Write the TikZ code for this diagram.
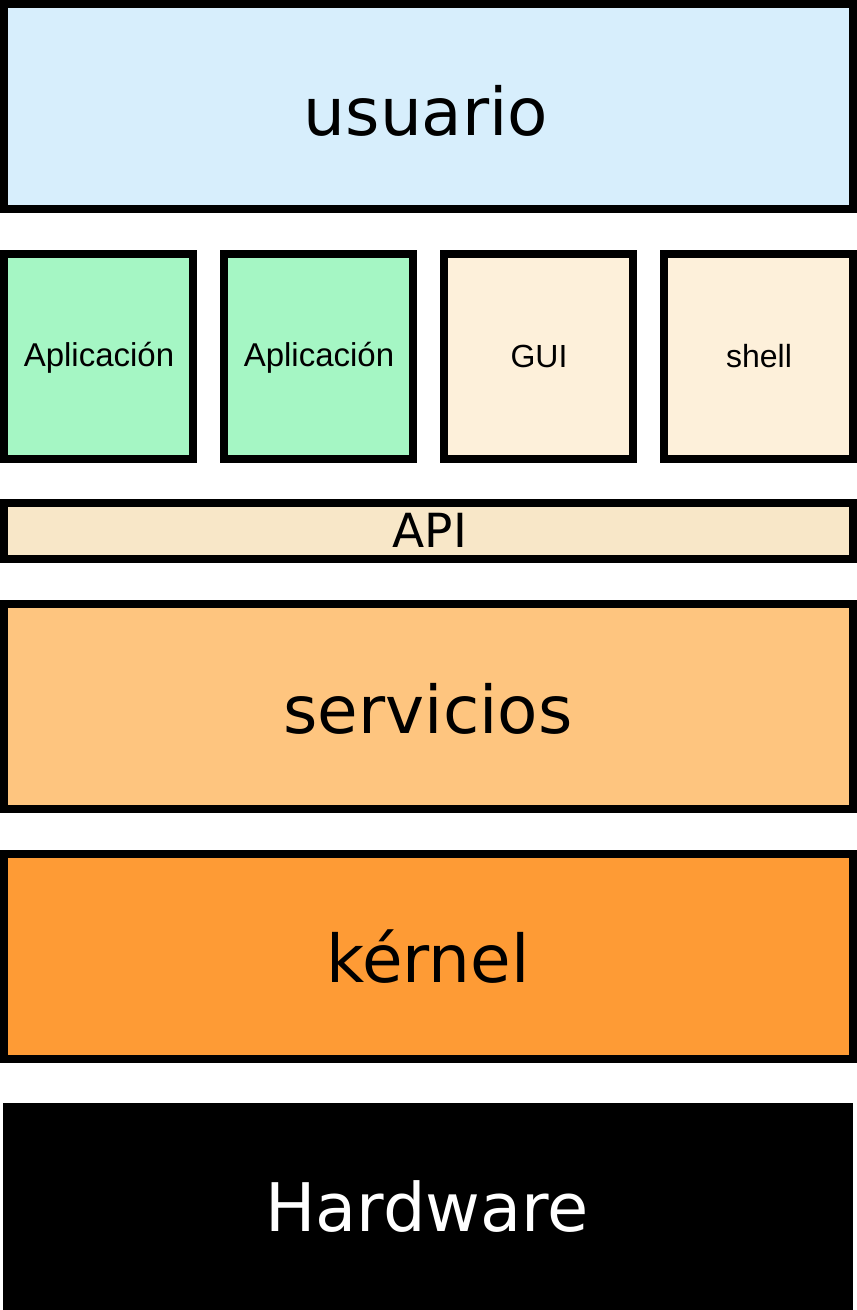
\documentclass[tikz,border=0pt]{standalone}
\usepackage{fontspec}
\setmainfont{DejaVu Sans}
\newfontfamily\arialf{Liberation Sans}
\definecolor{cuser}{RGB}{215,238,252}
\definecolor{capp}{RGB}{165,246,196}
\definecolor{cgui}{RGB}{253,240,218}
\definecolor{capi}{RGB}{248,231,200}
\definecolor{cserv}{RGB}{254,197,127}
\definecolor{ckern}{RGB}{254,155,53}
\tikzset{
  layer/.style={draw=black, line width=8pt, line join=miter},
  lbl/.style={anchor=base, inner sep=0pt, text=black},
}
\begin{document}
\begin{tikzpicture}[x=1pt,y=-1pt]
\useasboundingbox (0,0) rectangle (857,1310);
\fill[white] (0,0) rectangle (857,1310);
% layers
\draw[layer, fill=cuser] (4,4) rectangle (853,209);
\draw[layer, fill=capp] (4,254) rectangle (193,459);
\draw[layer, fill=capp] (224,254) rectangle (413,459);
\draw[layer, fill=cgui] (444,254) rectangle (633,459);
\draw[layer, fill=cgui] (664,254) rectangle (853,459);
\draw[layer, fill=capi] (4,503) rectangle (853,559);
\draw[layer, fill=cserv] (4,604) rectangle (853,809);
\draw[layer, fill=ckern] (4,854) rectangle (853,1059);
\fill[black] (3,1103) rectangle (853,1310);
% labels
\node[lbl, font=\fontsize{66}{66}\selectfont] (usuario) at (426,135) {usuario};
\node[lbl, font=\arialf\fontsize{33}{33}\selectfont] (app1) at (99,366) {Aplicación};
\node[lbl, font=\arialf\fontsize{33}{33}\selectfont] (app2) at (319,366) {Aplicación};
\node[lbl, font=\arialf\fontsize{32}{32}\selectfont] (gui) at (539,367) {GUI};
\node[lbl, font=\arialf\fontsize{32}{32}\selectfont] (shell) at (759,367) {shell};
\node[lbl, font=\fontsize{47}{47}\selectfont] (api) at (430,547) {API};
\node[lbl, font=\fontsize{66}{66}\selectfont] (serv) at (428,733) {servicios};
\node[lbl, font=\fontsize{66}{66}\selectfont] (kern) at (428,982) {kérnel};
\node[lbl, font=\fontsize{67}{67}\selectfont, text=white] (hw) at (427,1231) {Hardware};
\end{tikzpicture}
\end{document}
